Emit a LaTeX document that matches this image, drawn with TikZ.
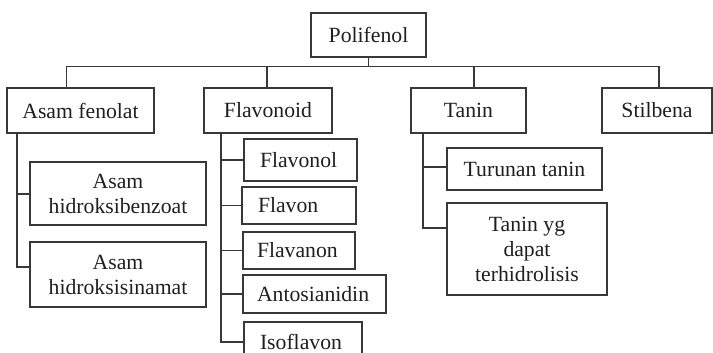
\documentclass[tikz,border=0pt]{standalone}
\usepackage{fontspec}
\setmainfont{Liberation Serif}
\begin{document}
\begin{tikzpicture}[x=1pt,y=-1pt,
  box/.style={draw=black!78,line width=1.1pt,rectangle,inner sep=0pt,text=black!88,
    font=\fontsize{21.7}{25}\selectfont,align=center},
  lbox/.style={box,align=left},
  conn/.style={draw=black!78,line width=1.1pt}]
\useasboundingbox (0,0) rectangle (713,353);
\clip (0,0) rectangle (713,353);
% top level
\node[box,minimum width=115pt,minimum height=44pt] (pol) at (368.5,35) {Polifenol};
\node[box,minimum width=147pt,minimum height=45pt] (af) at (80.5,110.5) {Asam fenolat};
\node[box,minimum width=128pt,minimum height=45pt] (fl) at (268,110.5) {Flavonoid};
\node[box,minimum width=115pt,minimum height=45pt] (tn) at (468.5,110.5) {Tanin};
\node[box,minimum width=110pt,minimum height=45pt] (st) at (657,110.5) {Stilbena};
% asam fenolat children
\node[box,minimum width=176pt,minimum height=63pt] (hb) at (118,193.5) {Asam\\hidroksibenzoat};
\node[box,minimum width=176pt,minimum height=65pt] (hs) at (118,274.5) {Asam\\hidroksisinamat};
% flavonoid children
\node[lbox,minimum width=113pt,minimum height=42pt,text width=81pt] (f1) at (300.5,160) {Flavonol};
\node[lbox,minimum width=114pt,minimum height=37pt,text width=82pt] (f2) at (299,205.5) {Flavon};
\node[lbox,minimum width=112pt,minimum height=37pt,text width=84pt] (f3) at (299,250.5) {Flavanon};
\node[lbox,minimum width=143pt,minimum height=38pt,text width=115pt] (f4) at (314.5,294) {Antosianidin};
\node[lbox,minimum width=118pt,minimum height=40pt,text width=86pt] (f5) at (303,342) {Isoflavon};
% tanin children
\node[box,minimum width=155pt,minimum height=42pt] (tt) at (524.5,169) {Turunan tanin};
\node[box,minimum width=160pt,minimum height=92pt] (ty) at (527,249) {Tanin yg\\dapat\\terhidrolisis};
% bus
\coordinate (b1) at (66.7,66.5);
\coordinate (b2) at (267,66.5);
\coordinate (b3) at (474,66.5);
\coordinate (b4) at (659,66.5);
\draw[conn] (b1) -- (b4);
\draw[conn] (pol.south) -- (pol.south |- b1);
\draw[conn] (b1) -- (b1 |- af.north);
\draw[conn] (b2) -- (b2 |- fl.north);
\draw[conn] (b3) -- (b3 |- tn.north);
\draw[conn] (b4) -- (b4 |- st.north);
% asam fenolat tree
\coordinate (a0) at (17,133);
\coordinate (a1) at (17,194);
\coordinate (a2) at (17,267);
\draw[conn] (a0) -- (a2) -- (a2 -| hs.west);
\draw[conn] (a1) -- (a1 -| hb.west);
% flavonoid tree
\coordinate (v0) at (221,133);
\draw[conn] (v0) -- (v0 |- f5.west) -- (f5.west);
\draw[conn] (v0 |- f1.west) -- (f1.west);
\draw[conn] (v0 |- f2.west) -- (f2.west);
\draw[conn] (v0 |- f3.west) -- (f3.west);
\draw[conn] (v0 |- f4.west) -- (f4.west);
% tanin tree
\coordinate (t0) at (423,133);
\coordinate (t1) at (423,167);
\coordinate (t2) at (423,228);
\draw[conn] (t0) -- (t2) -- (t2 -| ty.west);
\draw[conn] (t1) -- (t1 -| tt.west);
\end{tikzpicture}
\end{document}
